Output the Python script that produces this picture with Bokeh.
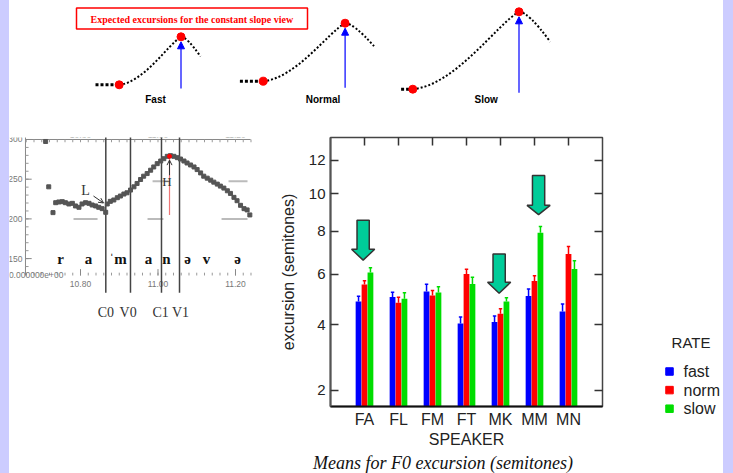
import numpy as np
from bokeh.plotting import figure
from bokeh.layouts import column, row
from bokeh.models import (Range1d, LinearAxis, FixedTicker, CustomJSTickFormatter,
                          Arrow, NormalHead, OpenHead, ColumnDataSource, Spacer,
                          GlobalInlineStyleSheet)
from bokeh.core.properties import value
from bokeh.embed import file_html
from bokeh.resources import INLINE

# ---------------- bar chart data (F0 excursion, semitones) ----------------
speakers = ["FA", "FL", "FM", "FT", "MK", "MM", "MN"]
rates = ["fast", "norm", "slow"]
rate_colors = ["#0000ff", "#ff0000", "#00dd00"]
fast = [4.86, 5.04, 5.26, 4.04, 4.09, 5.08, 4.48]
norm = [5.55, 4.81, 5.10, 6.00, 4.39, 5.70, 6.90]
slow = [6.07, 4.97, 5.22, 5.57, 4.86, 7.94, 6.22]
fast_upper = [5.07, 5.23, 5.56, 4.27, 4.31, 5.37, 4.76]
norm_upper = [5.71, 5.03, 5.30, 6.21, 4.58, 5.93, 7.26]
slow_upper = [6.28, 5.21, 5.46, 5.86, 5.01, 8.25, 6.59]
y_ticks = [2, 4, 6, 8, 10, 12]
y_min, y_max = 1.614, 13.43
legend_title = "RATE"
x_title = "SPEAKER"
y_title = "excursion (semitones)"
caption = "Means for F0 excursion (semitones)"

# highlighted speakers (down arrows), in semitones
arrow_speakers = ["FA", "MK", "MM"]
arrow_shift = [-0.04, -0.04, 0.12]
arrow_top = [8.57, 6.90, 11.06]
arrow_neck = [7.13, 5.65, 9.37]
arrow_tip = [6.62, 5.19, 8.87]

# ---------------- top sketch: expected excursions ----------------
sketch_title = "Expected excursions for the constant slope view"
sketch_rates = ["Fast", "Normal", "Slow"]
flat_x = [95.0, 239.4, 400.6]
start_x = [118.7, 262.7, 412.3]
start_y = [84.3, 80.7, 88.7]
peak_x = [180.5, 344.6, 518.5]
peak_y = [36.3, 22.7, 11.3]
end_x = [200.0, 373.5, 549.7]
end_y = [56.0, 45.7, 41.3]
arrow_base_y = [88.0, 87.3, 92.3]
sketch_label_x = [155.0, 322.5, 485.7]

# ---------------- left panel: F0 track (time s, Hz) ----------------
track_t = [10.710, 10.718, 10.729, 10.736, 10.744, 10.753, 10.761, 10.770, 10.779, 10.787,
           10.796, 10.804, 10.813, 10.822, 10.830, 10.839, 10.847, 10.856, 10.865, 10.869,
           10.877, 10.886, 10.895, 10.903, 10.912, 10.920, 10.929, 10.938, 10.946, 10.955,
           10.963, 10.972, 10.981, 10.989, 10.998, 11.007, 11.015, 11.024, 11.032, 11.041,
           11.050, 11.058, 11.067, 11.075, 11.084, 11.093, 11.101, 11.110, 11.118, 11.127,
           11.136, 11.144, 11.153, 11.161, 11.170, 11.179, 11.187, 11.196, 11.204, 11.213,
           11.222, 11.230, 11.237]
track_hz = [297.5, 240.4, 207.9, 220.4, 221.3, 221.7, 220.4, 218.8, 219.6, 216.3,
            214.6, 218.8, 220.4, 219.6, 217.5, 216.3, 214.6, 212.9, 208.3, 218.8,
            222.1, 223.8, 226.7, 228.8, 231.3, 232.9, 236.3, 240.4, 244.6, 249.6,
            253.8, 257.1, 261.3, 265.4, 269.6, 272.9, 275.8, 278.8, 279.6, 278.8,
            277.1, 275.4, 272.9, 270.4, 267.9, 265.4, 262.1, 257.9, 253.8, 251.3,
            248.8, 246.3, 243.8, 241.3, 238.8, 235.4, 232.1, 227.1, 222.9, 217.1,
            212.9, 211.3, 205.0]
boundary_names = ["C0", "V0", "C1", "V1"]
boundary_t = [10.8653, 10.9290, 11.0090, 11.0555]
boundary_label_t = [10.8653, 10.9230, 11.0066, 11.0581]
phones = ["r", "a", "\u02c8m", "a", "n", "\u0259", "v", "\u0259"]
phone_t = [10.7484, 10.8206, 10.8968, 10.9755, 11.0219, 11.0761, 11.1252, 11.2052]
time_ticks = [10.80, 11.00, 11.20]
time_tick_labels = ["10.80", "11.00", "11.20"]
hz_ticks = [300, 250, 200, 150]
hz_tick_labels = ["300", "250", "200", "150"]
guide_hz = [200, 200, 200, 247.5, 247.5]
guide_t0 = [10.782, 10.973, 11.164, 10.986, 11.182]
guide_t1 = [10.844, 11.014, 11.231, 11.027, 11.231]
peak_t, peak_hz = 11.0297, 278.8

SANS = "Liberation Sans"
SERIF = "Liberation Serif"


def blank(width, height, xr, yr, borders):
    l, r, t, b = borders
    p = figure(width=width, height=height, x_range=xr, y_range=yr, output_backend="svg",
               toolbar_location=None, x_axis_location=None, y_axis_location=None,
               min_border_left=l, min_border_right=r, min_border_top=t, min_border_bottom=b)
    p.grid.visible = False
    p.outline_line_color = None
    p.background_fill_color = "white"
    p.border_fill_color = "white"
    return p


# ================= top sketch =================
top = blank(714, 120, Range1d(9, 723), Range1d(120, 0), (0, 0, 0, 0))
top.quad(left=[76], right=[307], top=[7.5], bottom=[28.5], fill_color="white",
         line_color="#ff0000", line_width=1.5)
top.text(x=[191.5], y=[18.5], text=[sketch_title], text_align="center", text_baseline="middle",
         text_color="#ff0000", text_font=value(SERIF), text_font_style="bold", text_font_size="10px")
sx, sy = np.array(start_x), np.array(start_y)
px, py = np.array(peak_x), np.array(peak_y)
ex, ey = np.array(end_x), np.array(end_y)
dx, dy = px - sx, sy - py
top.segment(x0=flat_x, y0=start_y, x1=start_x, y1=start_y, line_color="black",
            line_width=3, line_dash="3 2")
top.bezier(x0=sx, y0=sy, x1=px, y1=py, cx0=sx + 0.4 * dx, cy0=sy - 0.05 * dy,
           cx1=sx + 0.8 * dx, cy1=sy - 0.85 * dy, line_color="black", line_width=2, line_dash="2 2")
top.quadratic(x0=px, y0=py, x1=ex, y1=ey, cx=px + 0.3 * (ex - px), cy=py,
              line_color="black", line_width=2, line_dash="2 2")
arr_src = ColumnDataSource(dict(x=peak_x, y0=arrow_base_y, y1=list(py + 5)))
top.add_layout(Arrow(end=NormalHead(size=7, fill_color="#0000ff", line_color="#0000ff"),
                     x_start="x", y_start="y0", x_end="x", y_end="y1", source=arr_src,
                     line_color="#0000ff", line_width=1.2))
top.scatter(x=start_x + peak_x, y=start_y + peak_y, size=8, color="#ff0000")
top.text(x=sketch_label_x, y=[99] * 3, text=sketch_rates, text_align="center", text_baseline="middle",
         text_color="black", text_font=value(SANS), text_font_style="bold", text_font_size="10px")

# ================= left panel: F0 track =================
left = blank(266, 330, Range1d(10.61677, 11.26452), Range1d(-36.25, 302.5), (0, 15, 17, 42))
ax_t0, ax_t1 = 10.658, 11.239
hz_top, hz_bot = 300, 128.75
left.segment(x0=[ax_t0], y0=[hz_top], x1=[ax_t1], y1=[hz_top], line_color="#888888", line_width=1)
left.segment(x0=[ax_t0], y0=[hz_bot], x1=[ax_t0], y1=[hz_top + 3], line_color="#888888", line_width=1)
tt = np.arange(10.66, 11.24, 0.02)
left.segment(x0=tt, y0=hz_top, x1=tt, y1=hz_top - 3.5, line_color="#999999", line_width=1)
left.segment(x0=tt, y0=hz_bot, x1=tt, y1=hz_bot + 3.5, line_color="#999999", line_width=1)
left.segment(x0=time_ticks, y0=hz_bot, x1=time_ticks, y1=hz_bot + 8, line_color="#888888", line_width=1)
hh = np.arange(140, 300, 10)
left.segment(x0=ax_t0, y0=hh, x1=ax_t0 + 0.008, y1=hh, line_color="#999999", line_width=1)
left.segment(x0=ax_t0, y0=hz_ticks, x1=ax_t0 + 0.016, y1=hz_ticks, line_color="#888888", line_width=1)
left.text(x=time_ticks, y=[305.6] * 3, text=time_tick_labels, text_align="center", text_baseline="middle",
          text_color="#777777", text_font=value(SANS), text_font_size="8.5px")
left.text(x=time_ticks, y=[117.5] * 3, text=time_tick_labels, text_align="center", text_baseline="middle",
          text_color="#777777", text_font=value(SANS), text_font_size="8.5px")
left.text(x=[10.6503] * 4, y=hz_ticks, text=hz_tick_labels, text_align="right", text_baseline="middle",
          text_color="#777777", text_font=value(SANS), text_font_size="8.5px")
left.text(x=[10.7561], y=[hz_bot], text=["0.000000e+00"], text_align="right", text_baseline="middle",
          text_color="#777777", text_font=value(SANS), text_font_size="8.5px")
left.segment(x0=guide_t0, y0=guide_hz, x1=guide_t1, y1=guide_hz, line_color="#bbbbbb", line_width=2)
left.segment(x0=boundary_t, y0=309, x1=boundary_t, y1=107, line_color="#444444", line_width=1.5)
left.segment(x0=[peak_t], y0=[205], x1=[peak_t], y1=[peak_hz], line_color="#ee7777", line_width=1.2)
left.scatter(x=track_t, y=track_hz, marker="square", size=4, color="#555555")
left.scatter(x=[peak_t], y=[peak_hz], size=4, color="#ff0000")
left.add_layout(Arrow(end=OpenHead(size=5, line_color="#333333", line_width=1),
                      x_start=peak_t, y_start=255, x_end=peak_t, y_end=274,
                      line_color="#333333", line_width=1))
left.add_layout(Arrow(end=OpenHead(size=5, line_color="#333333", line_width=1),
                      x_start=10.8335, y_start=228.8, x_end=10.8594, y_end=220,
                      line_color="#333333", line_width=1))
left.text(x=[10.8129], y=[236.3], text=["L"], text_align="center", text_baseline="middle",
          text_color="#333333", text_font=value(SERIF), text_font_size="14px")
left.text(x=[11.0228], y=[246.6], text=["H"], text_align="center", text_baseline="middle",
          text_color="#333333", text_font=value(SERIF), text_font_size="13px")
left.text(x=phone_t, y=[150] * len(phones), text=phones, text_align="center", text_baseline="middle",
          text_color="#111111", text_font=value(SERIF), text_font_style="bold", text_font_size="15px")
left.text(x=boundary_label_t, y=[82.5] * 4, text=boundary_names, text_align="center",
          text_baseline="middle", text_color="#333333", text_font=value(SERIF), text_font_size="14px")

# ================= bar chart =================
pos = np.arange(1, len(speakers) + 1)
bar = figure(width=370, height=330, x_range=Range1d(0, len(speakers) + 1),
             y_range=Range1d(np.sqrt(y_min), np.sqrt(y_max)), output_backend="svg",
             toolbar_location=None, x_axis_location=None, y_axis_location=None,
             min_border_left=55, min_border_right=43, min_border_top=17, min_border_bottom=42)
bar.grid.visible = False
bar.background_fill_color = "white"
bar.border_fill_color = "white"
bar.outline_line_color = "#444444"
bar.outline_line_width = 1.5

y_ticker = FixedTicker(ticks=list(np.sqrt(y_ticks)), minor_ticks=[])
x_ticker = FixedTicker(ticks=list(pos), minor_ticks=[])
empty_fmt = CustomJSTickFormatter(code="return '';")

yl = LinearAxis(ticker=y_ticker, axis_label=y_title,
                formatter=CustomJSTickFormatter(code="return String(Math.round(tick * tick));"))
yl.major_tick_in, yl.major_tick_out = 8, 0
yl.major_tick_line_color, yl.major_tick_line_width = "#333333", 1.5
yl.axis_line_color, yl.axis_line_width = "#555555", 2
yl.major_label_standoff = 5
yl.major_label_text_font, yl.major_label_text_font_size = SANS, "15px"
yl.major_label_text_color = "#222222"
yl.axis_label_text_font, yl.axis_label_text_font_size = SANS, "16px"
yl.axis_label_text_font_style, yl.axis_label_text_color = "normal", "#222222"
yl.axis_label_standoff = 9
bar.add_layout(yl, "left")

yr_ax = LinearAxis(ticker=y_ticker, formatter=empty_fmt)
yr_ax.major_tick_in, yr_ax.major_tick_out = 8, 0
yr_ax.major_tick_line_color, yr_ax.major_tick_line_width = "#333333", 1.5
yr_ax.axis_line_color = None
yr_ax.major_label_standoff = 0
yr_ax.major_label_text_font_size = "1px"
bar.add_layout(yr_ax, "right")

xt = LinearAxis(ticker=x_ticker, formatter=empty_fmt)
xt.major_tick_in, xt.major_tick_out = 8, 0
xt.major_tick_line_color, xt.major_tick_line_width = "#333333", 1.5
xt.axis_line_color = None
xt.major_label_standoff = 0
xt.major_label_text_font_size = "1px"
bar.add_layout(xt, "above")

xb = LinearAxis(ticker=x_ticker, axis_label=x_title,
                formatter=CustomJSTickFormatter(args=dict(names=speakers),
                                                code="return names[Math.round(tick) - 1] || '';"))
xb.major_tick_in, xb.major_tick_out = 0, 0
xb.axis_line_color, xb.axis_line_width = "#111111", 2
xb.major_label_standoff = 4
xb.major_label_text_font, xb.major_label_text_font_size = SANS, "16px"
xb.major_label_text_color = "#222222"
xb.axis_label_text_font, xb.axis_label_text_font_size = SANS, "16px"
xb.axis_label_text_font_style, xb.axis_label_text_color = "normal", "#222222"
xb.axis_label_standoff = 0
bar.add_layout(xb, "below")

bar_w, offsets, cap = 0.17, [-0.175, 0.0, 0.175], 0.05
for vals, ups, col, off in zip([fast, norm, slow], [fast_upper, norm_upper, slow_upper],
                               rate_colors, offsets):
    x = pos + off
    top_v, up_v = np.sqrt(vals), np.sqrt(ups)
    bar.vbar(x=x, top=top_v, bottom=0, width=bar_w, fill_color=col, line_color=None)
    bar.segment(x0=x, y0=top_v, x1=x, y1=up_v, line_color=col, line_width=1.5)
    bar.segment(x0=x - cap, y0=up_v, x1=x + cap, y1=up_v, line_color=col, line_width=1.5)

shaft_hw, head_hw = 0.18, 0.34
axs, ays = [], []
for s, d, t_, n_, tip_ in zip(arrow_speakers, arrow_shift, arrow_top, arrow_neck, arrow_tip):
    cx = speakers.index(s) + 1 + d
    axs.append([cx - shaft_hw, cx + shaft_hw, cx + shaft_hw, cx + head_hw, cx, cx - head_hw, cx - shaft_hw])
    ays.append(list(np.sqrt([t_, t_, n_, n_, tip_, n_, n_])))
bar.patches(xs=axs, ys=ays, fill_color="#00cc99", line_color="#333333", line_width=1.5)

# ================= legend panel (own column, own frame) =================
leg = blank(78, 330, Range1d(645, 723), Range1d(430, 137), (0, 0, 17, 20))
leg.text(x=[690.5], y=[342], text=[legend_title], text_align="center", text_baseline="middle",
         text_color="#222222", text_font=value(SANS), text_font_size="15px")
leg_y = 371 + 18.6 * np.arange(len(rates))
leg.scatter(x=[669] * len(rates), y=leg_y, marker="square", size=7.5, color=rate_colors)
leg.text(x=[683] * len(rates), y=leg_y, text=rates, text_align="left", text_baseline="middle",
         text_color="#222222", text_font=value(SANS), text_font_size="16px")

# ================= caption =================
cap_fig = blank(714, 23, Range1d(9, 723), Range1d(473, 450), (0, 0, 0, 0))
cap_fig.text(x=[442.5], y=[462], text=[caption], text_align="center", text_baseline="middle",
             text_color="#111111", text_font=value(SERIF), text_font_style="italic",
             text_font_size="18px")

css = GlobalInlineStyleSheet(css="body { background: linear-gradient(to right, #ccccff 0px, "
                                 "#ccccff 9px, #ffffff 9px, #ffffff 723px, #ccccff 723px); }")
p = column(row(Spacer(width=9, height=120), top),
           row(Spacer(width=9, height=330), left, bar, column(leg)),
           row(Spacer(width=9, height=23), cap_fig),
           stylesheets=[css])

open("out.html", "w").write(file_html(p, INLINE))
